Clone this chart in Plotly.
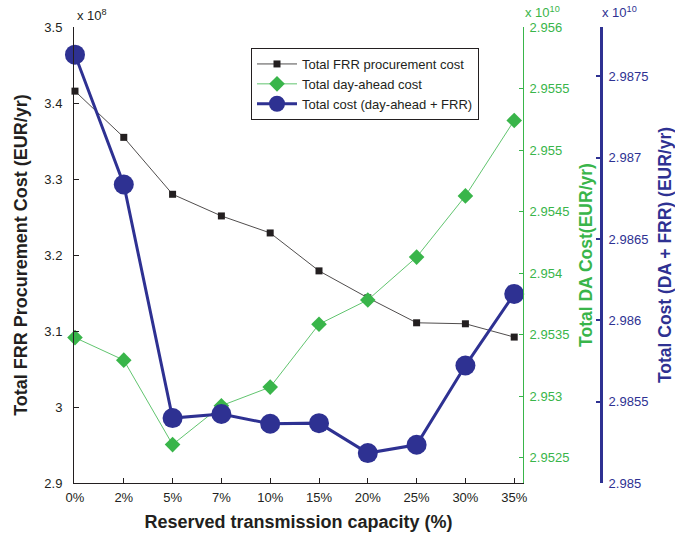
import plotly.graph_objects as go

# Reserved transmission capacity scenarios
capacity_labels = ["0%", "2%", "5%", "7%", "10%", "15%", "20%", "25%", "30%", "35%"]

# Total FRR procurement cost (x 1e8 EUR/yr)
frr_cost = [3.4156, 3.3548, 3.2799, 3.2514, 3.2290, 3.1791, 3.1437, 3.1108, 3.1095, 3.0920]
# Total day-ahead cost (x 1e10 EUR/yr)
da_cost = [2.953477, 2.953294, 2.952608, 2.952924, 2.953075, 2.953586, 2.953783, 2.954131, 2.954628, 2.955241]
# Total cost, day-ahead + FRR (x 1e10 EUR/yr)
total_cost = [2.987633, 2.986835, 2.985399, 2.985424, 2.985364, 2.985368, 2.985184, 2.985235, 2.985722, 2.986162]

# Axis tick values and labels
frr_ticks = [2.9, 3.0, 3.1, 3.2, 3.3, 3.4, 3.5]
frr_ticktext = ["2.9", "3", "3.1", "3.2", "3.3", "3.4", "3.5"]
da_ticks = [2.9525, 2.953, 2.9535, 2.954, 2.9545, 2.955, 2.9555, 2.956]
da_ticktext = ["2.9525", "2.953", "2.9535", "2.954", "2.9545", "2.955", "2.9555", "2.956"]
tot_ticks = [2.985, 2.9855, 2.986, 2.9865, 2.987, 2.9875]
tot_ticktext = ["2.985", "2.9855", "2.986", "2.9865", "2.987", "2.9875"]

BLACK = "#231f20"
GREEN = "#39b54a"
BLUE = "#2e3192"
FONT = "Arial, Liberation Sans, sans-serif"

W, H = 675, 537
ML, MR, MT, MB = 74, 60, 27, 54
plot_w = W - ML - MR
plot_h = H - MT - MB
x_end = (523 - ML) / plot_w
blue_pos = (601 - ML) / plot_w

fig = go.Figure()

fig.add_trace(go.Scatter(
    x=capacity_labels, y=frr_cost, name="Total FRR procurement cost",
    mode="lines+markers", yaxis="y", cliponaxis=False,
    line=dict(color=BLACK, width=0.8),
    marker=dict(symbol="square", size=7, color=BLACK),
))
fig.add_trace(go.Scatter(
    x=capacity_labels, y=da_cost, name="Total day-ahead cost",
    mode="lines+markers", yaxis="y2", cliponaxis=False,
    line=dict(color=GREEN, width=0.8),
    marker=dict(symbol="diamond", size=12, color=GREEN),
))
fig.add_trace(go.Scatter(
    x=capacity_labels, y=total_cost, name="Total cost (day-ahead + FRR)",
    mode="lines+markers", yaxis="y3", cliponaxis=False,
    line=dict(color=BLUE, width=3),
    marker=dict(symbol="circle", size=20, color=BLUE),
))

tick_font = dict(family=FONT, size=13, color=BLACK)

fig.update_layout(
    width=W, height=H,
    margin=dict(l=ML, r=MR, t=MT, b=MB, autoexpand=False),
    paper_bgcolor="white", plot_bgcolor="white",
    font=dict(family=FONT, size=13, color=BLACK),
    showlegend=True,
    legend=dict(
        x=(251 - ML) / plot_w, y=(H - MB - 48) / plot_h,
        xanchor="left", yanchor="top",
        bgcolor="white", bordercolor=BLACK, borderwidth=1,
        font=dict(family=FONT, size=13, color=BLACK),
        itemwidth=40, tracegroupgap=0,
    ),
    xaxis=dict(
        type="category", domain=[0, x_end], range=[-0.02, 9.18],
        showgrid=False, zeroline=False,
        showline=True, linecolor=BLACK, linewidth=1,
        ticks="inside", ticklen=5, tickcolor=BLACK,
        tickfont=tick_font, ticklabelstandoff=2,
        title=dict(text="<b>Reserved transmission capacity (%)</b>",
                   font=dict(family=FONT, size=18, color=BLACK), standoff=11),
        automargin=False,
    ),
    yaxis=dict(
        range=[2.9, 3.5], tickvals=frr_ticks, ticktext=frr_ticktext,
        showgrid=False, zeroline=False,
        showline=True, linecolor=BLACK, linewidth=1,
        ticks="inside", ticklen=5, tickcolor=BLACK,
        tickfont=tick_font, ticklabelstandoff=8,
        title=dict(text="<b>Total FRR Procurement Cost (EUR/yr)</b>",
                   font=dict(family=FONT, size=18, color=BLACK), standoff=12),
        automargin=False,
    ),
    yaxis2=dict(
        overlaying="y", side="right", anchor="x",
        range=[2.952296, 2.956], tickvals=da_ticks, ticktext=da_ticktext,
        showgrid=False, zeroline=False,
        showline=True, linecolor=GREEN, linewidth=1,
        ticks="inside", ticklen=4, tickcolor=GREEN,
        tickfont=dict(family=FONT, size=13, color=GREEN), ticklabelstandoff=3,
        title=dict(text="<b>Total DA Cost(EUR/yr)</b>",
                   font=dict(family=FONT, size=17.5, color=GREEN), standoff=11),
        automargin=False,
    ),
    yaxis3=dict(
        overlaying="y", side="right", anchor="free", position=blue_pos,
        range=[2.985, 2.987803], tickvals=tot_ticks, ticktext=tot_ticktext,
        showgrid=False, zeroline=False,
        showline=True, linecolor=BLUE, linewidth=3,
        ticks="inside", ticklen=4, tickwidth=2, tickcolor=BLUE,
        tickfont=dict(family=FONT, size=13, color=BLUE), ticklabelstandoff=3,
        title=dict(text="<b>Total Cost (DA + FRR) (EUR/yr)</b>",
                   font=dict(family=FONT, size=17.5, color=BLUE), standoff=11),
        automargin=False,
    ),
    annotations=[
        dict(text="x 10<sup>8</sup>", xref="paper", yref="paper",
             x=(75 - ML) / plot_w, y=(H - MB - 15) / plot_h,
             xanchor="left", yanchor="middle", showarrow=False,
             font=dict(family=FONT, size=13, color=BLACK)),
        dict(text="x 10<sup>10</sup>", xref="paper", yref="paper",
             x=(523 - ML) / plot_w, y=(H - MB - 12) / plot_h,
             xanchor="left", yanchor="middle", showarrow=False,
             font=dict(family=FONT, size=13, color=GREEN)),
        dict(text="x 10<sup>10</sup>", xref="paper", yref="paper",
             x=(600 - ML) / plot_w, y=(H - MB - 12) / plot_h,
             xanchor="left", yanchor="middle", showarrow=False,
             font=dict(family=FONT, size=13, color=BLUE)),
    ],
)

fig.write_html("out.html")
